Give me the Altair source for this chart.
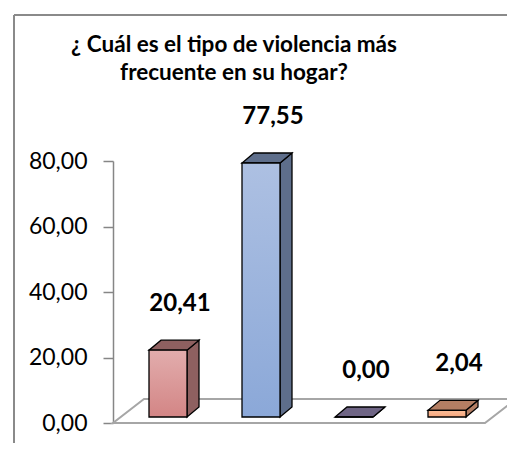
import altair as alt
import pandas as pd

# ---------------- data ----------------
categories = ["Física", "Psicológica", "Sexual", "Económica"]
values = [20.41, 77.55, 0.00, 2.04]
y_ticks = [0, 20, 40, 60, 80]
title_lines = ["¿ Cuál es el tipo de violencia más", "frecuente en su hogar?"]

# ---------------- styles ----------------
front_top = ["#e2adad", "#adc0e2", "#9a8fae", "#fbbd98"]
front_bottom = ["#d38585", "#8ba8d8", "#8a7ea0", "#f4a57c"]
side_colors = ["#8e6060", "#5e6e8b", "#6f6585", "#b47e63"]
top_colors = ["#a97b7b", "#7b89a6", "#8d82a1", "#c99c83"]
FONT = "Lato"

W, H = 372, 262
YMAX = 80
N = len(categories)
PX_X = W / N
PX_Y = H / YMAX
BAR_W = 38 / PX_X                       # front face width
OFF_X, OFF_Y = 8.5 / PX_X, 6 / PX_Y      # bars sit a little behind the floor front
DEP_X, DEP_Y = 12 / PX_X, 10 / PX_Y      # bar depth
FL_X, FL_Y = 31 / PX_X, 24 / PX_Y        # floor depth

# ---------------- derived tables ----------------
front_rows, side_rows, top_rows, label_rows = [], [], [], []
for i, (c, v) in enumerate(zip(categories, values)):
    cx = i + 0.5 + OFF_X
    xl, xr = cx - BAR_W / 2, cx + BAR_W / 2
    y0, y1 = OFF_Y, v + OFF_Y
    front_rows.append({"cat": c, "xl": xl, "xr": xr, "y0": y0, "y1": y1})
    side_rows += [
        {"cat": c, "x": xr, "lo": y0, "hi": y1},
        {"cat": c, "x": xr + DEP_X, "lo": y0 + DEP_Y, "hi": y1 + DEP_Y},
    ]
    top_rows += [
        {"cat": c, "x": xl, "lo": y1, "hi": y1},
        {"cat": c, "x": xl + DEP_X, "lo": y1, "hi": y1 + DEP_Y},
        {"cat": c, "x": xr, "lo": y1, "hi": y1 + DEP_Y},
        {"cat": c, "x": xr + DEP_X, "lo": y1 + DEP_Y, "hi": y1 + DEP_Y},
    ]
    label_rows.append({"cat": c, "cx": cx, "ty": y1, "v": v})

floor_df = pd.DataFrame({
    "x": [0, FL_X, N, N + FL_X],
    "lo": [0, 0, 0, FL_Y],
    "hi": [0, FL_Y, FL_Y, FL_Y],
})

xscale = alt.Scale(domain=[0, N], nice=False, zero=False)
yscale = alt.Scale(domain=[0, YMAX], nice=False, zero=False)
yaxis = alt.Axis(
    values=y_ticks,
    labelExpr="replace(format(datum.value, '.2f'), '.', ',')",
    title=None,
    grid=False,
    domainColor="#868686",
    domainWidth=1.5,
    tickColor="#868686",
    tickWidth=1.5,
    tickSize=10,
    labelFont=FONT,
    labelFontSize=23,
    labelColor="black",
    labelPadding=16,
)

one = pd.DataFrame({"k": [0]})
frame_left = alt.Chart(one).mark_rule(color="#8a8a8a", strokeWidth=2).encode(
    x=alt.value(-99), y=alt.value(-146), y2=alt.value(H + 60)
)
frame_top = alt.Chart(one).mark_rule(color="#8a8a8a", strokeWidth=2).encode(
    x=alt.value(-99), x2=alt.value(W + 60), y=alt.value(-146)
)

title = alt.Chart(one).mark_text(
    font=FONT, fontSize=22.5, fontWeight="bold", color="black",
    align="center", baseline="middle", lineHeight=28,
).encode(
    x=alt.value(121), y=alt.value(-116), text=alt.value(title_lines)
)

floor = alt.Chart(floor_df).mark_area(
    fill="white", stroke="#a6a6a6", strokeWidth=2
).encode(
    x=alt.X("x:Q", scale=xscale, axis=None),
    y=alt.Y("lo:Q", scale=yscale, axis=yaxis),
    y2="hi:Q",
)

side = alt.Chart(pd.DataFrame(side_rows)).mark_area(
    stroke="black", strokeWidth=1.3, fillOpacity=1
).encode(
    x=alt.X("x:Q", scale=xscale, axis=None),
    y=alt.Y("lo:Q", scale=yscale, axis=yaxis),
    y2="hi:Q",
    color=alt.Color("cat:N", scale=alt.Scale(domain=categories, range=side_colors), legend=None),
    detail="cat:N",
)

top = alt.Chart(pd.DataFrame(top_rows)).mark_area(
    stroke="black", strokeWidth=1.3, fillOpacity=1
).encode(
    x=alt.X("x:Q", scale=xscale, axis=None),
    y=alt.Y("lo:Q", scale=yscale, axis=yaxis),
    y2="hi:Q",
    color=alt.Color("cat:N", scale=alt.Scale(domain=categories, range=top_colors), legend=None),
    detail="cat:N",
)

front_df = pd.DataFrame(front_rows)
fronts = []
for i, c in enumerate(categories):
    grad = alt.Gradient(
        gradient="linear",
        stops=[
            alt.GradientStop(color=front_top[i], offset=0),
            alt.GradientStop(color=front_bottom[i], offset=1),
        ],
        x1=0, x2=0, y1=0, y2=1,
    )
    fronts.append(
        alt.Chart(front_df[front_df["cat"] == c]).mark_rect(
            fill=grad, stroke="black", strokeWidth=1.3
        ).encode(
            x=alt.X("xl:Q", scale=xscale, axis=None),
            x2="xr:Q",
            y=alt.Y("y0:Q", scale=yscale, axis=yaxis),
            y2="y1:Q",
        )
    )

labels = alt.Chart(pd.DataFrame(label_rows)).transform_calculate(
    lab="replace(format(datum.v, '.2f'), '.', ',')"
).mark_text(
    font=FONT, fontSize=24, fontWeight="bold", color="black",
    align="center", baseline="middle", dx=12, dy=-46,
).encode(
    x=alt.X("cx:Q", scale=xscale, axis=None),
    y=alt.Y("ty:Q", scale=yscale, axis=yaxis),
    text="lab:N",
)

chart = alt.layer(frame_left, frame_top, title, floor, side, top, *fronts, labels).properties(
    width=W,
    height=H,
    autosize="none",
    padding={"left": 105, "top": 153, "right": 22, "bottom": 20},
    background="white",
).configure_view(stroke=None)

chart.save("out.html", embed_options={"renderer": "svg", "actions": False})
